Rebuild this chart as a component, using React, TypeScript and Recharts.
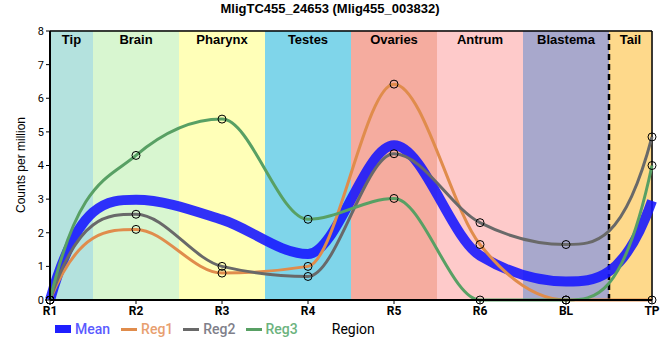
import { ComposedChart, Line, XAxis, YAxis, CartesianGrid, ReferenceArea, ReferenceLine } from "recharts";

const categories = ["R1", "R2", "R3", "R4", "R5", "R6", "BL", "TP"];
const meanValues = [0, 2.98, 2.39, 1.37, 4.6, 1.32, 0.55, 2.95];
const reg1Values = [0, 2.1, 0.8, 1.0, 6.42, 1.65, 0, 0];
const reg2Values = [0, 2.55, 1.0, 0.7, 4.35, 2.3, 1.65, 4.85];
const reg3Values = [0, 4.3, 5.38, 2.4, 3.02, 0, 0, 4.0];

const bands = [
  { name: "Tip", from: 0, to: 0.5, color: "#b4e2de" },
  { name: "Brain", from: 0.5, to: 1.5, color: "#d8f6d0" },
  { name: "Pharynx", from: 1.5, to: 2.5, color: "#ffffb8" },
  { name: "Testes", from: 2.5, to: 3.5, color: "#7fd5ea" },
  { name: "Ovaries", from: 3.5, to: 4.5, color: "#f5ac9f" },
  { name: "Antrum", from: 4.5, to: 5.5, color: "#fecaca" },
  { name: "Blastema", from: 5.5, to: 6.5, color: "#a8a8cc" },
  { name: "Tail", from: 6.5, to: 7, color: "#fed98b" },
];

const yTicks = [0, 1, 2, 3, 4, 5, 6, 7, 8];

const SERIES = [
  { key: "reg1", label: "Reg1", color: "#e08c4c", text: "#e8a070" },
  { key: "reg2", label: "Reg2", color: "#696969", text: "#7f7f8a" },
  { key: "reg3", label: "Reg3", color: "#58a064", text: "#6cb37e" },
];

const data = categories.map((c, i) => ({
  x: i,
  mean: meanValues[i],
  reg1: reg1Values[i],
  reg2: reg2Values[i],
  reg3: reg3Values[i],
}));

// monotone hermite, but with steeper end tangents (3*s - t) like the original plot
function smoothCurve(context: any) {
  let xs: number[] = [];
  let ys: number[] = [];
  const endSlope = (s: number, adj: number) => {
    let v = 3 * s - adj;
    if (Math.sign(v) !== Math.sign(s)) v = 0;
    if (Math.abs(v) > 3 * Math.abs(s)) v = 3 * s;
    return v;
  };
  return {
    areaStart() {},
    areaEnd() {},
    lineStart() {
      xs = [];
      ys = [];
    },
    point(x: number, y: number) {
      xs.push(+x);
      ys.push(+y);
    },
    lineEnd() {
      const n = xs.length;
      if (!n) return;
      context.moveTo(xs[0], ys[0]);
      if (n === 1) return;
      if (n === 2) {
        context.lineTo(xs[1], ys[1]);
        return;
      }
      const h: number[] = [];
      const s: number[] = [];
      for (let i = 0; i < n - 1; i++) {
        h[i] = xs[i + 1] - xs[i];
        s[i] = (ys[i + 1] - ys[i]) / h[i];
      }
      const t: number[] = new Array(n).fill(0);
      for (let i = 1; i < n - 1; i++) {
        const p = (s[i - 1] * h[i] + s[i] * h[i - 1]) / (h[i - 1] + h[i]);
        t[i] =
          (Math.sign(s[i - 1]) + Math.sign(s[i])) *
            Math.min(Math.abs(s[i - 1]), Math.abs(s[i]), 0.5 * Math.abs(p)) || 0;
      }
      t[0] = endSlope(s[0], t[1]);
      t[n - 1] = endSlope(s[n - 2], t[n - 2]);
      for (let i = 0; i < n - 1; i++) {
        const dx = h[i] / 3;
        context.bezierCurveTo(
          xs[i] + dx,
          ys[i] + dx * t[i],
          xs[i + 1] - dx,
          ys[i + 1] - dx * t[i + 1],
          xs[i + 1],
          ys[i + 1]
        );
      }
    },
  };
}

const dot = { r: 4, fill: "none", stroke: "#000", strokeWidth: 1 };

export default function App() {
  return (
    <div style={{ position: "absolute", left: 0, top: 0, width: 660, height: 360, fontFamily: "Roboto, sans-serif" }}>
      <div
        style={{
          position: "absolute",
          top: 1,
          left: 0,
          width: 660,
          textAlign: "center",
          fontFamily: "'Liberation Sans', Arial, sans-serif",
          fontWeight: "bold",
          fontSize: 13,
        }}
      >
        MligTC455_24653 (Mlig455_003832)
      </div>
      <ComposedChart width={660} height={360} data={data} margin={{ top: 31, right: 8, left: 0, bottom: 40 }}>
        {bands.map((b) => (
          <ReferenceArea
            key={b.name}
            x1={b.from}
            x2={b.to}
            y1={0}
            y2={8}
            fill={b.color}
            fillOpacity={1}
            stroke="none"
            label={{
              value: b.name,
              position: "insideTop",
              offset: 4,
              fill: "#000",
              fontWeight: "bold",
              fontSize: 13,
              fontFamily: "'Liberation Sans', Arial, sans-serif",
            }}
          />
        ))}
        <CartesianGrid stroke="#c8c8c8" strokeWidth={1} vertical horizontal />
        <XAxis
          type="number"
          dataKey="x"
          domain={[0, 7]}
          ticks={[0, 1, 2, 3, 4, 5, 6, 7]}
          tickFormatter={(i) => categories[i]}
          interval={0}
          height={20}
          axisLine={{ stroke: "#000", strokeWidth: 2 }}
          tickLine={{ stroke: "#000" }}
          tickSize={4}
          tick={{ fill: "#000", fontSize: 12, fontWeight: "bold" }}
        />
        <YAxis
          type="number"
          domain={[0, 8]}
          ticks={yTicks}
          width={50}
          axisLine={{ stroke: "#000", strokeWidth: 2 }}
          tickLine={{ stroke: "#000" }}
          tickSize={4}
          tick={{ fill: "#000", fontSize: 11 }}
          label={{
            content: () => (
              <text
                x={25}
                y={165}
                transform="rotate(-90 25 165)"
                textAnchor="middle"
                fontSize={12}
                fill="#000"
                fontFamily="'Liberation Sans', Arial, sans-serif"
              >
                Counts per million
              </text>
            ),
          }}
        />
        <ReferenceLine y={8} stroke="#000" strokeWidth={1.5} />
        <ReferenceLine x={7} stroke="#000" strokeWidth={1.5} />
        <ReferenceLine x={6.5} stroke="#000" strokeWidth={2.5} strokeDasharray="6 4" />
        <Line
          type={smoothCurve as any}
          dataKey="mean"
          stroke="#1414ff"
          strokeOpacity={0.88}
          strokeWidth={10}
          dot={false}
          activeDot={false}
          isAnimationActive={false}
        />
        {SERIES.map((s) => (
          <Line
            key={s.key}
            type={smoothCurve as any}
            dataKey={s.key}
            stroke={s.color}
            strokeWidth={3}
            dot={dot}
            activeDot={false}
            isAnimationActive={false}
          />
        ))}
      </ComposedChart>
      <div
        style={{
          position: "absolute",
          top: 321,
          left: 55,
          display: "flex",
          alignItems: "center",
          fontSize: 14,
          fontWeight: 500,
          whiteSpace: "nowrap",
        }}
      >
        <span style={{ display: "inline-block", width: 16, height: 8, background: "#1f1fff", marginRight: 4 }} />
        <span style={{ color: "#5b5bff", marginRight: 11 }}>Mean</span>
        {SERIES.map((s) => (
          <span key={s.key} style={{ display: "flex", alignItems: "center", marginRight: 10 }}>
            <span style={{ display: "inline-block", width: 16, height: 3, background: s.color, marginRight: 4 }} />
            <span style={{ color: s.text }}>{s.label}</span>
          </span>
        ))}
        <span style={{ color: "#000", fontWeight: 400, marginLeft: 24 }}>Region</span>
      </div>
    </div>
  );
}
